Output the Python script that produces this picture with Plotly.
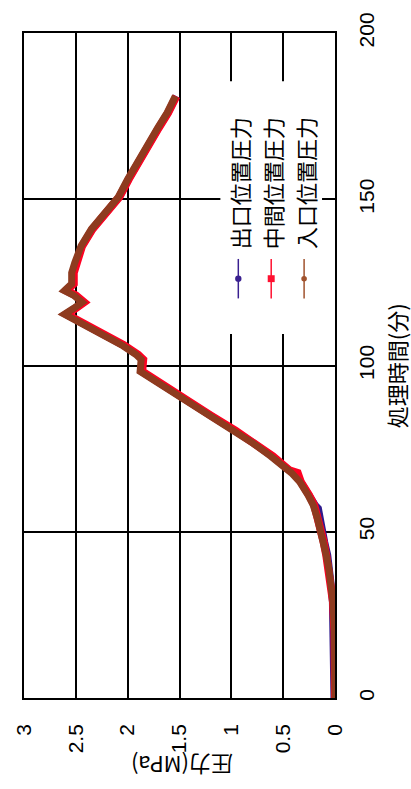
import plotly.graph_objects as go

# Elapsed treatment time (min) and pressure (MPa) at three measuring points
time_min = [0, 10, 20, 29, 35, 39, 43, 47, 50, 54, 57, 58, 61, 65, 67.7, 68.5,
            72.7, 76.6, 80.4, 85, 90.5, 94, 96.4, 98.2, 101.8, 103.3, 106.2,
            110.1, 113.6, 115.4, 117.2, 119, 121.1, 122.5, 124.6, 127.9, 130.9,
            135.9, 141, 145.7, 150.7, 156, 161.7, 166.5, 171.5, 176, 181]

p_outlet = [0.01, 0.01, 0.012, 0.025, 0.04, 0.05, 0.07, 0.10, 0.12, 0.15, 0.16, 0.19,
            0.25, 0.33, 0.41, 0.44, 0.61, 0.78, 0.97, 1.21, 1.48, 1.67, 1.79, 1.87,
            1.86, 1.91, 2.05, 2.27, 2.47, 2.60, 2.51, 2.43, 2.51, 2.60, 2.53, 2.53,
            2.50, 2.44, 2.34, 2.22, 2.08, 1.99, 1.89, 1.79, 1.70, 1.61, 1.53]

p_middle = [0.0, 0.0, 0.005, 0.02, 0.04, 0.06, 0.085, 0.11, 0.13, 0.17, 0.19, 0.20,
            0.25, 0.33, 0.36, 0.44, 0.60, 0.77, 0.96, 1.20, 1.47, 1.66, 1.78, 1.86,
            1.85, 1.90, 2.04, 2.26, 2.46, 2.59, 2.50, 2.42, 2.50, 2.59, 2.52, 2.52,
            2.49, 2.44, 2.34, 2.22, 2.08, 1.99, 1.89, 1.79, 1.70, 1.61, 1.53]

p_inlet = [0.0, 0.0, 0.005, 0.02, 0.04, 0.06, 0.085, 0.11, 0.13, 0.17, 0.20, 0.21,
           0.26, 0.34, 0.42, 0.45, 0.62, 0.79, 0.98, 1.22, 1.49, 1.68, 1.80, 1.88,
           1.87, 1.92, 2.06, 2.28, 2.48, 2.61, 2.52, 2.44, 2.52, 2.61, 2.54, 2.54,
           2.51, 2.45, 2.35, 2.23, 2.09, 2.00, 1.90, 1.80, 1.71, 1.62, 1.54]

series_names = ["出口位置圧力", "中間位置圧力", "入口位置圧力"]
series_colors = ["#2E1A8C", "#FF0022", "#8E3B1F"]
legend_colors = ["#3A2090", "#FF1030", "#A0522D"]
line_widths = [7, 8, 7]

pressure_ticks = [0, 0.5, 1, 1.5, 2, 2.5, 3]
time_ticks = [0, 50, 100, 150, 200]

W, H = 411, 789
L, R, T, B = 23, 76, 24, 91
plot_w = W - L - R
plot_h = H - T - B


def px(xp):
    return (xp - L) / plot_w


def py(yp):
    return (H - B - yp) / plot_h


fig = go.Figure()
for name, pv, col, lw in zip(series_names, [p_outlet, p_middle, p_inlet],
                             series_colors, line_widths):
    fig.add_trace(go.Scatter(x=pv, y=time_min, mode="lines", name=name,
                             line=dict(color=col, width=lw),
                             showlegend=False))

tick_font = dict(family="Liberation Sans, Arial, sans-serif", size=21, color="black")
fig.update_xaxes(range=[3, 0], tickvals=pressure_ticks, tickangle=-90,
                 showgrid=True, gridcolor="black", gridwidth=1.5,
                 showline=True, linecolor="black", linewidth=1.5, mirror=True,
                 zeroline=False, ticks="", ticklabelstandoff=16,
                 tickfont=tick_font)
fig.update_yaxes(range=[0, 200], tickvals=time_ticks, tickangle=-90, side="right",
                 showgrid=True, gridcolor="black", gridwidth=1.5,
                 showline=True, linecolor="black", linewidth=1.5, mirror=True,
                 zeroline=False, ticks="", ticklabelstandoff=12,
                 tickfont=tick_font)

# Legend panel: white box with rotated labels and sample markers
shapes = [dict(type="rect", xref="paper", yref="paper",
               x0=px(220), x1=px(322), y0=py(329), y1=py(73),
               fillcolor="white", line=dict(width=0), layer="above")]
legend_x = [238, 271, 304]
annotations = []
for i, (name, col, xc) in enumerate(zip(series_names, legend_colors, legend_x)):
    shapes.append(dict(type="line", xref="paper", yref="paper",
                       x0=px(xc), x1=px(xc), y0=py(293), y1=py(253),
                       line=dict(color=col, width=1.5), layer="above"))
    if i == 1:
        s = 3.5
        shapes.append(dict(type="rect", xref="paper", yref="paper",
                           x0=px(xc - s), x1=px(xc + s), y0=py(273 + s), y1=py(273 - s),
                           fillcolor=col, line=dict(width=0), layer="above"))
    else:
        r = 3.2 if i == 0 else 2.8
        shapes.append(dict(type="circle", xref="paper", yref="paper",
                           x0=px(xc - r), x1=px(xc + r), y0=py(273 + r), y1=py(273 - r),
                           fillcolor=col, line=dict(width=0), layer="above"))
    annotations.append(dict(text=name, xref="paper", yref="paper",
                            x=px(xc + 1), y=py(176), textangle=-90,
                            showarrow=False, xanchor="center", yanchor="middle",
                            font=dict(family="Noto Sans CJK JP", size=22, color="black")))

annotations.append(dict(text="処理時間(分)", xref="paper", yref="paper",
                        x=px(396), y=py(361), textangle=-90, showarrow=False,
                        xanchor="center", yanchor="middle",
                        font=dict(family="Noto Sans CJK JP", size=22, color="black")))
annotations.append(dict(text="圧力(MPa)", xref="paper", yref="paper",
                        x=px(181), y=py(767), textangle=180, showarrow=False,
                        xanchor="center", yanchor="middle",
                        font=dict(family="Noto Sans CJK JP", size=22, color="black")))

fig.update_layout(width=W, height=H, margin=dict(l=L, r=R, t=T, b=B),
                  paper_bgcolor="white", plot_bgcolor="white",
                  shapes=shapes, annotations=annotations, showlegend=False)

fig.write_html("out.html")
